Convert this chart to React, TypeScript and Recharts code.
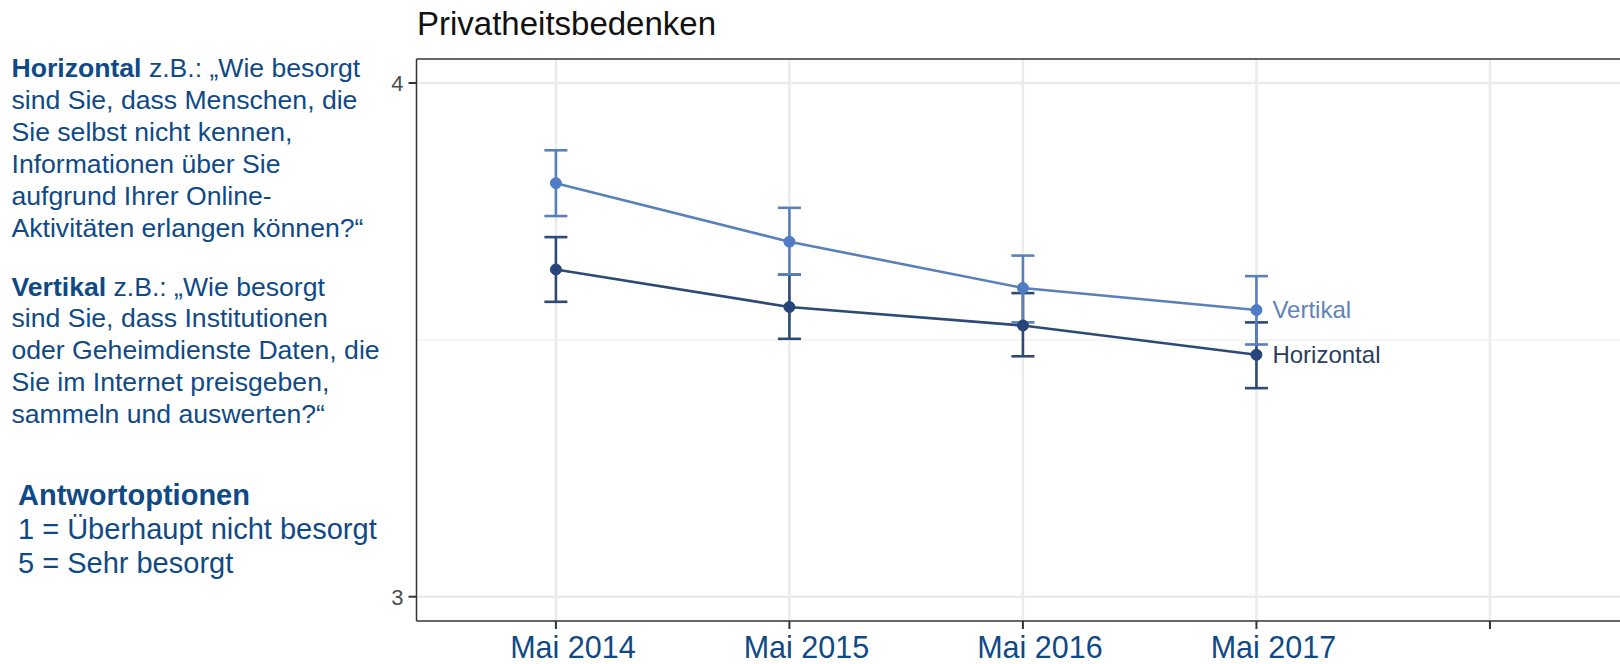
import React from 'react';
import { LineChart, Line, XAxis, YAxis, CartesianGrid, ErrorBar, LabelList, ReferenceLine } from 'recharts';

const years = [2014, 2015, 2016, 2017];
const xTickValues = [2014, 2015, 2016, 2017, 2018];
const xTickLabels = ['Mai 2014', 'Mai 2015', 'Mai 2016', 'Mai 2017', ''];
const yTickValues = [3, 4];
const yMinorValues = [3.5];

const vertikal = [3.805, 3.691, 3.601, 3.558];
const vertikalLow = [3.741, 3.627, 3.534, 3.491];
const vertikalHigh = [3.869, 3.757, 3.664, 3.624];

const horizontal = [3.637, 3.564, 3.528, 3.471];
const horizontalLow = [3.574, 3.502, 3.468, 3.406];
const horizontalHigh = [3.700, 3.627, 3.591, 3.534];

const seriesNames = ['Vertikal', 'Horizontal'];

const X_DOMAIN: [number, number] = [2013.403, 2018.557];
const Y_DOMAIN: [number, number] = [2.9527, 4.0467];

const data = years.map((year, i) => ({
  year,
  v: vertikal[i],
  vErr: [vertikal[i] - vertikalLow[i], vertikalHigh[i] - vertikal[i]],
  vName: i === years.length - 1 ? seriesNames[0] : '',
  h: horizontal[i],
  hErr: [horizontal[i] - horizontalLow[i], horizontalHigh[i] - horizontal[i]],
  hName: i === years.length - 1 ? seriesNames[1] : '',
}));

const FONT = '"Liberation Sans", Arial, sans-serif';
const BLUE_TEXT = '#0f4a86';
const V_COLOR = '#5a80b9';
const V_DOT = '#4f7cc2';
const H_COLOR = '#2d4a74';
const H_DOT = '#27457a';

const XTick = (props: any) => {
  const { x, payload } = props;
  const idx = xTickValues.indexOf(payload.value);
  const label = idx >= 0 ? xTickLabels[idx] : '';
  if (!label) return null;
  return (
    <text x={x + 17} y={657.5} textAnchor="middle" fill={BLUE_TEXT} fontSize={30.5} fontFamily={FONT}>
      {label}
    </text>
  );
};

const makeLabel = (color: string) => (props: any) => {
  const value = props.value;
  if (!value) return null;
  const x = props.x ?? props.viewBox?.x;
  const y = props.y ?? props.viewBox?.y;
  return (
    <text x={x + 16} y={y} dy="0.35em" fill={color} fontSize={24} fontFamily={FONT}>
      {value}
    </text>
  );
};

const block1 = [
  [<b key="b">Horizontal</b>, ' z.B.: „Wie besorgt'],
  ['sind Sie, dass Menschen, die'],
  ['Sie selbst nicht kennen,'],
  ['Informationen über Sie'],
  ['aufgrund Ihrer Online-'],
  ['Aktivitäten erlangen können?“'],
];
const block2 = [
  [<b key="b">Vertikal</b>, ' z.B.: „Wie besorgt'],
  ['sind Sie, dass Institutionen'],
  ['oder Geheimdienste Daten, die'],
  ['Sie im Internet preisgeben,'],
  ['sammeln und auswerten?“'],
];
const block3 = [
  [<b key="b">Antwortoptionen</b>],
  ['1 = Überhaupt nicht besorgt'],
  ['5 = Sehr besorgt'],
];

const TextBlock = ({ lines, left, top, size, lh }: any) => (
  <div
    style={{
      position: 'absolute',
      left,
      top,
      fontSize: size,
      lineHeight: `${lh}px`,
      color: BLUE_TEXT,
      fontFamily: FONT,
      whiteSpace: 'nowrap',
    }}
  >
    {lines.map((l: any, i: number) => (
      <div key={i}>{l}</div>
    ))}
  </div>
);

export default function App() {
  return (
    <div
      style={{
        position: 'absolute',
        left: 0,
        top: 0,
        width: 1620,
        height: 664,
        overflow: 'hidden',
        background: '#ffffff',
        fontFamily: FONT,
      }}
    >
      <div
        style={{
          position: 'absolute',
          left: 417,
          top: 3.6,
          fontSize: 33,
          lineHeight: '40px',
          color: '#111111',
          fontFamily: FONT,
          whiteSpace: 'nowrap',
        }}
      >
        Privatheitsbedenken
      </div>
      <TextBlock lines={block1} left={11.5} top={51.5} size={26.6} lh={32} />
      <TextBlock lines={block2} left={11.5} top={271.5} size={26.6} lh={31.8} />
      <TextBlock lines={block3} left={18} top={478} size={29} lh={34} />
      <div style={{ position: 'absolute', left: 0, top: 0 }}>
        <LineChart
          width={1620}
          height={664}
          data={data}
          margin={{ top: 59, right: 0, bottom: 0, left: 0 }}
        >
          <CartesianGrid
            horizontalValues={yMinorValues}
            vertical={false}
            stroke="#f0f0f0"
            strokeWidth={1.2}
          />
          <CartesianGrid
            horizontalValues={yTickValues}
            verticalValues={xTickValues}
            stroke="#ebebeb"
            strokeWidth={2.5}
          />
          <XAxis
            dataKey="year"
            type="number"
            domain={X_DOMAIN}
            allowDataOverflow
            ticks={xTickValues}
            interval={0}
            height={43}
            tickSize={8}
            tickLine={{ stroke: '#333333', strokeWidth: 2 }}
            axisLine={{ stroke: '#333333', strokeWidth: 1.7 }}
            tick={<XTick />}
          />
          <YAxis
            type="number"
            domain={Y_DOMAIN}
            allowDataOverflow
            ticks={yTickValues}
            width={416.5}
            tickSize={8}
            tickMargin={5}
            tickLine={{ stroke: '#333333', strokeWidth: 2 }}
            axisLine={{ stroke: '#333333', strokeWidth: 1.5 }}
            tick={{ fill: '#4d4d4d', fontSize: 22, fontFamily: FONT }}
          />
          <ReferenceLine y={Y_DOMAIN[1]} stroke="#333333" strokeWidth={1.7} ifOverflow="visible" />
          <Line
            dataKey="h"
            stroke={H_COLOR}
            strokeWidth={2.6}
            dot={{ r: 5.5, fill: H_DOT, stroke: H_DOT, strokeWidth: 1 }}
            activeDot={false}
            isAnimationActive={false}
          >
            <ErrorBar dataKey="hErr" direction="y" width={11.5} stroke={H_COLOR} strokeWidth={2.6} />
            <LabelList dataKey="hName" content={makeLabel('#2a3d5e')} />
          </Line>
          <Line
            dataKey="v"
            stroke={V_COLOR}
            strokeWidth={2.6}
            dot={{ r: 5.5, fill: V_DOT, stroke: V_DOT, strokeWidth: 1 }}
            activeDot={false}
            isAnimationActive={false}
          >
            <ErrorBar dataKey="vErr" direction="y" width={11.5} stroke={V_COLOR} strokeWidth={2.6} />
            <LabelList dataKey="vName" content={makeLabel('#5f83ba')} />
          </Line>
        </LineChart>
      </div>
    </div>
  );
}
